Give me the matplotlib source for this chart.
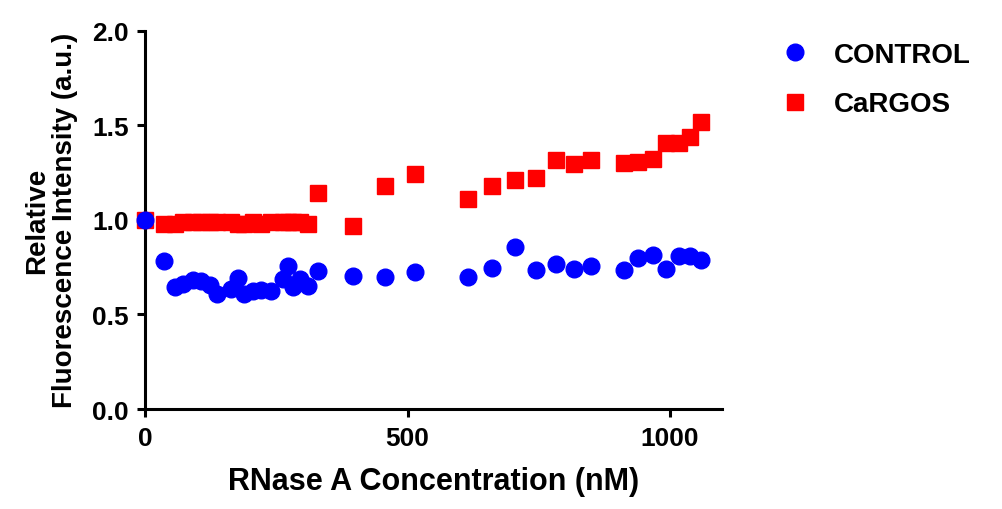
import matplotlib
matplotlib.use("Agg")
import matplotlib.pyplot as plt

plt.rcParams['font.family'] = ['Liberation Sans', 'DejaVu Sans']
plt.rcParams['font.weight'] = 'bold'

# RNase A concentration (nM)
conc = [0, 36, 56, 72, 90, 107, 123, 137, 164, 176, 189, 205, 221, 240, 262,
        272, 281, 294, 310, 330, 395, 457, 514, 615, 661, 704, 744, 782, 817,
        850, 912, 939, 967, 992, 1017, 1039, 1059]

control = [1.0, 0.78, 0.645, 0.66, 0.68, 0.675, 0.653, 0.61, 0.633, 0.69, 0.61,
           0.625, 0.63, 0.625, 0.686, 0.757, 0.643, 0.686, 0.648, 0.727, 0.705,
           0.70, 0.725, 0.70, 0.745, 0.857, 0.733, 0.765, 0.739, 0.756, 0.733,
           0.797, 0.814, 0.742, 0.81, 0.81, 0.788]

cargos = [1.0, 0.98, 0.98, 0.99, 0.99, 0.99, 0.99, 0.99, 0.99, 0.98, 0.98, 0.99,
          0.98, 0.99, 0.99, 0.99, 0.99, 0.99, 0.98, 1.14, 0.97, 1.18, 1.24, 1.11,
          1.18, 1.21, 1.22, 1.315, 1.295, 1.314, 1.298, 1.307, 1.319, 1.404,
          1.404, 1.439, 1.517]

fig = plt.figure(figsize=(10.02, 5.10), dpi=100)
ax = fig.add_axes([0.145, 0.196, 0.576, 0.742])

ax.plot(conc, cargos, 's', color='#ff0000', markersize=11.5, label='CaRGOS',
        clip_on=False, zorder=3)
ax.plot(conc, control, 'o', color='#0000ff', markersize=12, label='CONTROL',
        clip_on=False, zorder=4)

ax.set_xlim(0, 1100)
ax.set_ylim(0, 2.0)
ax.set_xticks([0, 500, 1000])
ax.set_yticks([0.0, 0.5, 1.0, 1.5, 2.0])
ax.set_yticklabels(['0.0', '0.5', '1.0', '1.5', '2.0'])

for s in ['top', 'right']:
    ax.spines[s].set_visible(False)
for s in ['left', 'bottom']:
    ax.spines[s].set_linewidth(2.2)
ax.tick_params(width=2.2, length=6, labelsize=19, pad=6)

ax.set_xlabel('RNase A Concentration (nM)', fontsize=22, fontweight='bold', labelpad=12)
ax.set_ylabel('Relative\nFluorescence Intensity (a.u.)', fontsize=20,
              fontweight='bold', labelpad=10, linespacing=1.1)

h, l = ax.get_legend_handles_labels()
ax.legend(h[::-1], l[::-1], loc='upper left', bbox_to_anchor=(0.755, 0.965),
          bbox_transform=fig.transFigure, frameon=False, fontsize=20,
          handletextpad=0.9, labelspacing=0.85, handlelength=1.0)

fig.savefig('out.png', dpi=100)
